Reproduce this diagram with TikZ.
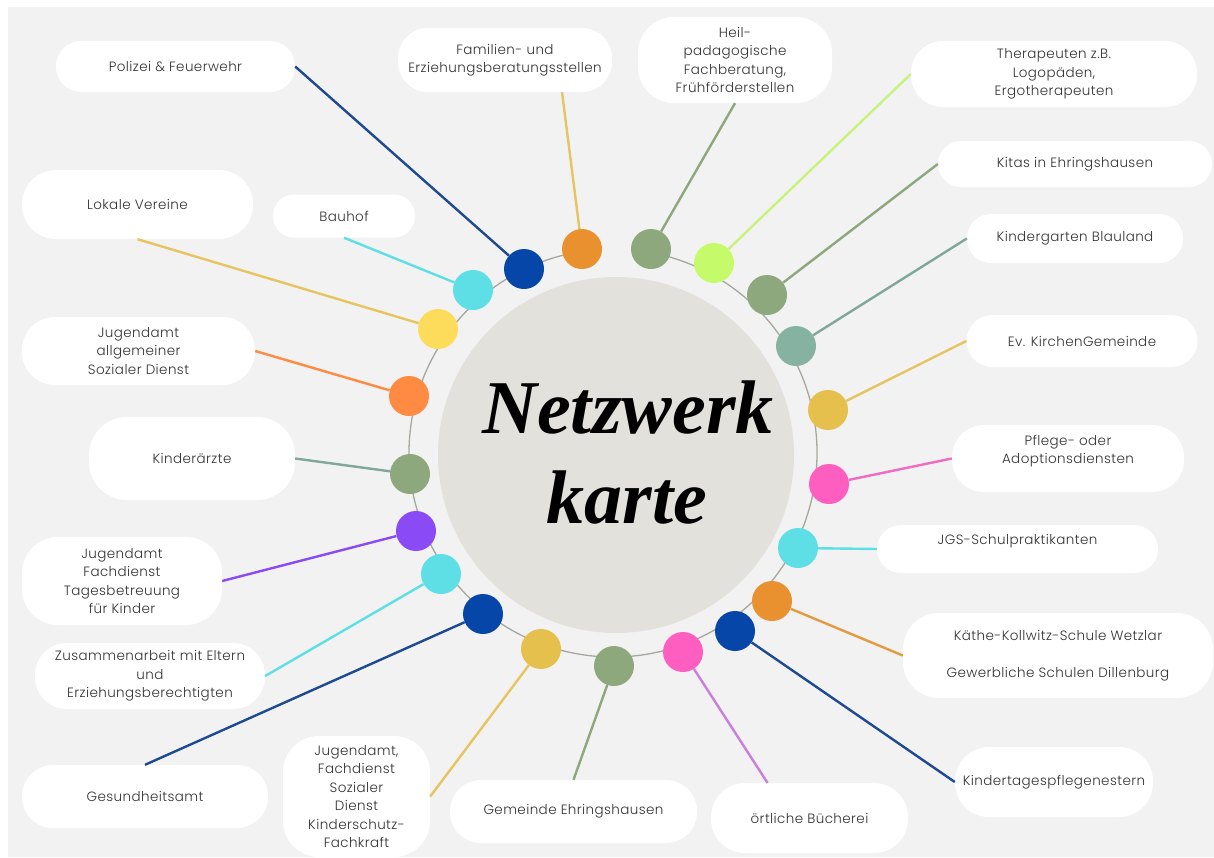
\documentclass[tikz,border=0pt]{standalone}
\usepackage{fontspec}
\setmainfont{Poppins}[UprightFont=* Light, LetterSpace=3]
\newfontfamily\titlefont{Liberation Serif}

\definecolor{bggrey}{HTML}{F3F2F2}
\definecolor{hubgrey}{HTML}{E3E1DC}
\definecolor{ringgrey}{HTML}{A4A89F}
\definecolor{txtgrey}{HTML}{333333}
\definecolor{navy}{HTML}{0646A8}
\definecolor{navyline}{HTML}{1D4A90}
\definecolor{orangedot}{HTML}{E8912E}
\definecolor{orangeline}{HTML}{E39A40}
\definecolor{coral}{HTML}{FF8B43}
\definecolor{sage}{HTML}{8DA87C}
\definecolor{lime}{HTML}{C5FB6B}
\definecolor{limeline}{HTML}{C9F27C}
\definecolor{teal}{HTML}{86B2A2}
\definecolor{tealline}{HTML}{7FA89A}
\definecolor{mustard}{HTML}{E5C04C}
\definecolor{mustardline}{HTML}{E6C460}
\definecolor{yellowdot}{HTML}{FEDC5B}
\definecolor{pink}{HTML}{FF5EC1}
\definecolor{pinkline}{HTML}{F06CC2}
\definecolor{violetline}{HTML}{C97FE0}
\definecolor{purpledot}{HTML}{8A4BF6}
\definecolor{cyandot}{HTML}{5DDFE5}

\tikzset{
  netbox/.style={fill=white, rounded corners=#1, inner sep=0pt, align=center,
    text=txtgrey, font=\fontsize{13.5}{18.5}\selectfont},
  netbox/.default=22pt,
  netdot/.style={circle, fill=#1, minimum size=40pt, inner sep=0pt},
  netlink/.style={draw=#1, line width=2.4pt},
  titletext/.style={font=\titlefont\bfseries\itshape\fontsize{76}{76}\selectfont, anchor=base}
}

\begin{document}
\begin{tikzpicture}[x=1pt,y=-1pt]
\useasboundingbox (0,0) rectangle (1214,857);
\fill[white] (0,0) rectangle (1214,857);
\fill[bggrey] (8,7) rectangle (1214,857);

% hub and ring (open at the top)
\fill[hubgrey] (616,455) circle (178);
\draw[ringgrey, line width=1.3pt] (613,453) ++(280.7:204) arc[start angle=280.7, end angle=621.3, radius=204];

\node[titletext](titel1) at (628,433) {Netzwerk};
\node[titletext](titel2) at (627,523) {karte};

% boxes, left side
\node[netbox=25pt, minimum width=239pt, minimum height=51pt](pol) at (175.5,66.5) {Polizei \& Feuerwehr};
\node[netbox=34pt, minimum width=231pt, minimum height=69pt](lok) at (137.5,204.5) {Lokale Vereine};
\node[netbox=21pt, minimum width=142pt, minimum height=43pt](bau) at (344,216) {Bauhof};
\node[netbox=33pt, minimum width=233pt, minimum height=68pt](asd) at (138.5,351) {Jugendamt\\allgemeiner\\Sozialer Dienst};
\node[netbox=38pt, minimum width=206pt, minimum height=83pt](kin) at (192,458.5) {Kinderärzte};
\node[netbox=36pt, minimum width=200pt, minimum height=88pt](tag) at (122,581) {Jugendamt\\Fachdienst\\Tagesbetreuung\\für Kinder};
\node[netbox=32pt, minimum width=230pt, minimum height=66pt](zus) at (150,676) {Zusammenarbeit mit Eltern\\und\\Erziehungsberechtigten};
\node[netbox=31pt, minimum width=246pt, minimum height=63pt](ges) at (145,796.5) {Gesundheitsamt};

% boxes, top
\node[netbox=30pt, minimum width=214pt, minimum height=64pt](fam) at (505,60) {Familien- und\\Erziehungsberatungsstellen};
\node[netbox=36pt, minimum width=194pt, minimum height=86pt](heil) at (735,60) {Heil-\\padagogische\\Fachberatung,\\Frühförderstellen};

% boxes, right side
\node[netbox=32pt, minimum width=286pt, minimum height=66pt](ther) at (1054,74) {Therapeuten z.B.\\Logopäden,\\Ergotherapeuten};
\node[netbox=23pt, minimum width=274pt, minimum height=46pt](kita) at (1075,164) {Kitas in Ehringshausen};
\node[netbox=24pt, minimum width=216pt, minimum height=49pt](blau) at (1075,238.5) {Kindergarten Blauland};
\node[netbox=26pt, minimum width=231pt, minimum height=52pt](kirche) at (1082,341) {Ev. KirchenGemeinde};
\node[netbox=32pt, minimum width=232pt, minimum height=67pt](pflege) at (1068,458.5) {Pflege- oder\\Adoptionsdiensten\\~};
\node[netbox=24pt, minimum width=281pt, minimum height=48pt](jgs) at (1017.5,549) {JGS-Schulpraktikanten\\~};
\node[netbox=36pt, minimum width=310pt, minimum height=85pt](kaethe) at (1058,655.5) {Käthe-Kollwitz-Schule Wetzlar\\[18.5pt]Gewerbliche Schulen Dillenburg};
\node[netbox=34pt, minimum width=198pt, minimum height=70pt](ktp) at (1054,782) {Kindertagespflegenestern};

% boxes, bottom
\node[netbox=34pt, minimum width=197pt, minimum height=70pt](buech) at (809.5,818) {örtliche Bücherei};
\node[netbox=31pt, minimum width=247pt, minimum height=63pt](gem) at (573.5,811.5) {Gemeinde Ehringshausen};
\node[netbox=36pt, minimum width=147pt, minimum height=121pt](jfd) at (356.5,796.5) {Jugendamt,\\Fachdienst\\Sozialer\\Dienst\\Kinderschutz-\\Fachkraft};

% dots on the ring
\node[netdot=navy](dpol) at (524,269) {};
\node[netdot=orangedot](dfam) at (582,249) {};
\node[netdot=sage](dheil) at (651,249) {};
\node[netdot=lime](dther) at (714,263) {};
\node[netdot=sage](dkita) at (767,295) {};
\node[netdot=teal](dblau) at (796,346) {};
\node[netdot=mustard](dkirche) at (828,410) {};
\node[netdot=pink](dpflege) at (829,484) {};
\node[netdot=cyandot](djgs) at (798,548) {};
\node[netdot=orangedot](dkaethe) at (772,601) {};
\node[netdot=navy](dktp) at (735,631) {};
\node[netdot=pink](dbuech) at (683,652) {};
\node[netdot=sage](dgem) at (614,666) {};
\node[netdot=mustard](djfd) at (541,649) {};
\node[netdot=navy](dges) at (483,614) {};
\node[netdot=cyandot](dzus) at (441,574) {};
\node[netdot=purpledot](dtag) at (416,531) {};
\node[netdot=sage](dkin) at (410,474) {};
\node[netdot=coral](dasd) at (409,396) {};
\node[netdot=yellowdot](dlok) at (438,329) {};
\node[netdot=cyandot](dbau) at (473,290) {};

% links
\draw[netlink=navyline] (pol.east) -- (dpol);
\draw[netlink=mustardline] ([xshift=57pt]fam.south) -- (dfam);
\draw[netlink=sage] (heil.south) -- (dheil);
\draw[netlink=limeline] (ther.west) -- (dther);
\draw[netlink=sage] (kita.west) -- (dkita);
\draw[netlink=tealline] (blau.west) -- (dblau);
\draw[netlink=mustardline] (kirche.west) -- (dkirche);
\draw[netlink=pinkline] (pflege.west) -- (dpflege);
\draw[netlink=cyandot] (jgs.west) -- (djgs);
\draw[netlink=orangeline] (kaethe.west) -- (dkaethe);
\draw[netlink=navyline] (ktp.west) -- (dktp);
\draw[netlink=violetline] ([xshift=-42pt]buech.north) -- (dbuech);
\draw[netlink=sage] (gem.north) -- (dgem);
\draw[netlink=mustardline] (jfd.east) -- (djfd);
\draw[netlink=navyline] (ges.north) -- (dges);
\draw[netlink=cyandot] (zus.east) -- (dzus);
\draw[netlink=purpledot] (tag.east) -- (dtag);
\draw[netlink=tealline] (kin.east) -- (dkin);
\draw[netlink=coral] (asd.east) -- (dasd);
\draw[netlink=mustardline] (lok.south) -- (dlok);
\draw[netlink=cyandot] (bau.south) -- (dbau);
\end{tikzpicture}
\end{document}
